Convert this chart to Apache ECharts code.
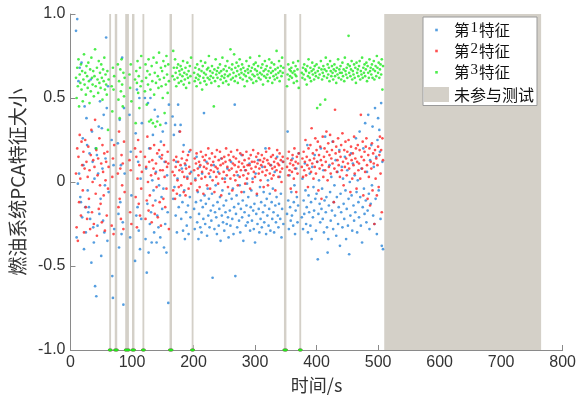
<!DOCTYPE html>
<html>
<head>
<meta charset="utf-8">
<script src="https://cdn.jsdelivr.net/npm/echarts@6/dist/echarts.min.js"></script>
<style>html,body{margin:0;padding:0;background:#fff}#c{width:579px;height:402px}</style>
</head>
<body>
<div id="c"></div>
<script>
// ---- data ----
const startTime = 9; // first sample time (s); one sample per second
const seriesNames = ['第1特征', '第2特征', '第3特征'];
const untestedName = '未参与测试';
const untestedRange = [510, 765];
const excludedRanges = [[63,66],[72,76],[89,95],[100,104],[117,120],[161,165],[197,200],[347,351],[372,375]];
const xTicks = {min: 0, max: 800, step: 100};
const yTicks = {min: -1, max: 1, step: 0.5};

const feature1 = [
0.90,-0.33,0.97,-0.01,0.60,0.05,0.68,-0.09,-0.12,0.71,
-0.21,0.26,0.10,-0.40,0.45,-0.15,-0.30,0.38,0.22,-0.05,
-0.18,-0.15,0.17,-0.22,0.61,-0.48,0.30,0.12,-0.27,-0.36,
0.02,-0.62,0.20,-0.68,0.16,-0.26,0.05,0.33,-0.19,0.48,
-0.10,-0.44,0.32,0.08,-0.23,0.40,-0.30,-0.02,0.14,0.86,
0.44,-0.35,0.57,-0.06,-1,-1,-1,-1,0.25,-0.56,
-0.69,0.10,-0.28,-1,-1,-1,-1,-1,0.23,-0.19,
-0.39,0.37,-0.12,0.10,-0.31,0.74,-0.24,-0.73,0.44,0.05,
-1,-1,-1,-1,-1,-1,-1,0.40,-0.33,0.18,
-0.08,-1,-1,-1,-1,-1,-0.47,0.29,-0.20,0.55,
-0.15,0.12,-0.29,0.50,-0.40,0.02,-0.22,0.35,-1,-1,
-1,-1,0.50,-0.34,0.08,-0.54,-0.13,0.47,-0.42,0.20,
-0.25,0.50,-0.18,-0.36,0.01,0.28,-0.05,-0.30,0.43,-0.11,
0.06,-0.36,-0.20,0.39,-0.27,-0.02,0.15,-0.33,0.24,-0.09,
-0.16,0.30,-0.04,-0.39,0.12,-0.25,0.35,-0.42,0.04,-0.18,
-0.72,0.46,-1,-1,-1,-1,-1,0.39,-0.10,0.28,
-0.03,0.34,-0.20,0.12,-0.30,0.02,0.46,-0.15,0.30,-0.08,
0.34,-0.22,0.08,-0.12,-0.29,0.22,-0.05,-0.34,0.10,-0.18,
-0.26,0.03,-0.14,-0.31,0.18,-0.09,-0.21,0.06,-1,-1,
-1,-1,-0.16,-0.28,0.02,-0.12,0.15,-0.24,-0.06,-0.34,
-0.19,0.09,-0.27,-0.11,-0.30,0.05,-0.15,-0.22,0.41,-0.08,
-0.25,-0.13,0.12,-0.32,-0.04,-0.20,-0.10,-0.27,0.03,-0.17,
-0.23,-0.07,-0.57,-0.14,0.10,-0.28,-0.18,-0.02,-0.21,-0.31,
-0.12,0.06,-0.26,-0.16,-0.09,-0.35,0.14,-0.20,-0.05,-0.24,
-0.14,-0.29,0.02,-0.18,-0.11,-0.25,0.08,-0.21,-0.33,-0.07,
-0.17,-0.26,0.12,-0.10,-0.22,-0.04,-0.31,-0.15,0.46,-0.56,
-0.19,-0.08,-0.27,0.04,-0.13,-0.23,-0.02,-0.30,-0.16,0.16,
-0.21,-0.11,-0.35,-0.06,-0.18,0.07,-0.26,-0.14,-0.01,-0.24,
-0.09,-0.20,0.11,-0.29,-0.15,-0.05,-0.23,0.02,-0.17,-0.28,
-0.13,-0.36,0.05,-0.19,-0.08,-0.25,0.13,-0.16,-0.30,-0.03,
-0.22,-0.12,-0.27,0.09,-0.18,-0.06,-0.24,-0.14,0.20,-0.31,
-0.10,-0.20,0.01,-0.26,-0.16,-0.07,-0.29,0.10,-0.12,-0.22,
-0.04,-0.18,-0.30,0.06,-0.14,-0.24,-0.09,0.15,-0.20,-0.27,
-0.13,0.03,-0.22,-0.07,-0.33,-0.16,0.12,-0.25,-1,-1,
-1,-1,-1,-0.19,0.30,-0.11,-0.28,0.04,-0.15,-0.23,
-0.06,-0.20,0.14,-0.26,-0.12,-0.02,-0.31,-0.17,0.08,-0.09,
-0.24,-0.14,0.17,-1,-1,-1,-1,-0.21,0.02,-0.28,
-0.11,-0.19,0.11,-0.05,-0.25,-0.15,0.22,-0.30,-0.08,-0.18,
0.05,-0.26,-0.12,-0.34,0.09,-0.21,-0.03,-0.17,0.16,-0.10,
-0.29,-0.07,0.12,-0.46,-0.19,0.01,-0.13,-0.24,0.20,-0.16,
-0.04,-0.22,0.07,-0.30,-0.11,0.27,-0.18,-0.09,-0.27,-0.42,
-0.34,-0.14,0.10,-0.06,-0.23,0.03,-0.17,0.24,-0.28,-0.12,
-0.02,-0.20,0.13,-0.32,-0.09,0.06,-0.25,-0.15,0.19,-0.38,
-0.07,-0.18,0.09,-0.27,0.02,-0.13,-0.22,0.15,-0.05,-0.34,
-0.16,0.07,-0.26,-0.10,-0.43,0.00,-0.20,0.17,-0.08,-0.29,
0.11,-0.14,-0.23,0.04,-0.18,0.26,-0.06,-0.30,0.01,-0.12,
-0.21,0.30,-0.09,-0.26,0.08,-0.36,-0.15,0.20,-0.04,-0.19,
0.35,-0.11,-0.24,0.06,-0.17,0.40,-0.07,-0.28,0.13,-0.13,
0.22,-0.02,0.33,-0.20,0.09,-0.25,0.44,-0.10,0.15,-0.31,
0.25,0.38,-0.05,0.31,0.18,-0.22,0.47,-0.38,0.12,-0.40
];

const feature2 = [
0.05,-0.27,0.20,-0.35,0.15,-0.12,0.28,0.02,-0.20,0.24,
0.10,-0.05,0.18,-0.30,0.08,0.25,-0.15,0.12,-0.22,0.03,
0.21,-0.10,0.07,-0.28,0.16,0.31,-0.18,0.00,0.13,-0.25,
0.09,0.37,-0.07,0.19,-0.32,0.04,0.14,-0.16,0.26,-0.02,
-0.13,0.11,-0.24,0.22,0.06,-0.08,0.17,-0.29,0.01,0.12,
-0.20,0.18,-0.04,0.09,-1,-1,-1,-1,-0.26,0.03,
0.14,-0.31,0.22,-1,-1,-1,-1,-1,0.05,-0.15,
0.30,-0.10,0.08,-0.22,0.16,-0.02,0.11,-0.28,0.24,-0.06,
-1,-1,-1,-1,-1,-1,-1,0.13,-0.18,0.07,
-0.25,-1,-1,-1,-1,-1,0.20,-0.09,0.15,-0.27,
0.02,0.25,-0.13,0.10,-0.20,0.18,-0.04,0.06,-1,-1,
-1,-1,0.15,-0.22,0.09,-0.11,0.27,0.00,-0.17,0.12,
-0.08,0.20,0.04,-0.24,0.13,-0.14,0.08,0.22,-0.19,0.05,
0.11,-0.03,0.17,-0.21,0.02,0.19,-0.12,0.07,-0.26,0.14,
0.16,0.07,-0.10,0.22,0.03,-0.15,0.12,-0.04,0.09,0.18,
0.11,-0.28,-1,-1,-1,-1,-1,0.06,-0.05,0.13,
0.04,-0.10,0.09,0.15,-0.07,0.01,0.12,-0.03,0.07,0.30,
0.10,-0.02,0.14,0.06,0.18,-0.06,0.03,0.11,-0.08,0.08,
0.13,0.02,0.16,-0.04,0.09,0.05,0.19,-0.01,-1,-1,
-1,-1,0.07,0.14,0.01,0.11,0.17,-0.05,0.08,0.04,
0.12,-0.03,0.10,0.18,0.02,0.06,0.15,-0.07,0.09,0.13,
0.03,0.16,0.08,-0.02,0.11,0.20,0.05,0.14,-0.04,0.07,
0.10,0.17,0.01,0.12,0.06,-0.06,0.15,0.09,0.03,0.19,
0.08,-0.01,0.13,0.05,0.18,0.10,-0.08,0.14,0.02,0.11,
0.06,0.15,0.00,0.12,0.20,0.04,0.09,-0.03,0.16,0.07,
0.13,0.02,0.18,0.08,-0.05,0.11,0.15,0.04,0.10,0.01,
0.14,0.06,0.19,-0.02,0.09,0.12,0.03,0.17,0.07,-0.06,
0.11,0.16,0.04,0.09,0.13,-0.01,0.07,0.18,0.02,0.10,
0.05,0.14,0.10,-0.04,0.16,0.08,0.12,0.00,0.19,0.06,
0.12,0.03,0.09,0.15,-0.07,0.11,0.17,0.05,0.08,0.13,
0.01,0.10,0.16,0.06,0.12,-0.03,0.14,0.09,0.04,0.18,
0.07,0.13,-0.02,0.11,0.20,0.05,0.10,0.15,0.02,0.08,
0.16,0.04,0.12,0.09,-0.05,0.14,0.07,0.19,0.11,0.03,
0.10,0.17,0.06,0.13,0.00,0.08,0.15,0.12,-1,-1,
-1,-1,-1,0.09,0.14,0.04,0.18,0.07,0.11,-0.04,
0.13,0.06,0.16,0.10,0.02,0.20,0.08,0.12,-0.06,0.15,
0.05,0.11,0.17,-1,-1,-1,-1,0.09,0.14,0.03,
0.18,0.07,0.12,0.25,0.04,0.15,0.10,-0.03,0.20,0.08,
0.13,0.22,0.06,0.32,0.11,0.17,0.02,0.14,0.09,0.26,
0.05,0.19,0.12,0.24,-0.05,0.16,0.08,0.21,0.13,-0.10,
0.10,0.27,0.03,0.15,0.20,0.07,0.12,0.30,0.18,0.01,
0.23,0.09,0.16,0.28,0.05,0.14,0.19,0.11,0.24,-0.12,
0.08,0.43,0.17,0.21,0.06,0.13,0.26,0.10,0.18,0.03,
0.15,0.22,0.07,0.29,0.12,-0.02,0.19,0.09,0.24,0.14,
0.04,0.18,0.11,0.25,0.08,0.16,-0.06,0.21,0.13,0.02,
0.17,0.10,0.27,0.05,0.14,0.20,-0.04,0.12,0.22,0.07,
0.11,0.19,0.02,0.40,0.15,0.08,0.24,-0.08,0.13,0.18,
0.06,0.21,0.26,0.10,-0.10,0.16,0.03,0.20,-0.14,0.12,
0.08,0.23,-0.05,0.17,0.11,-0.25,0.19,0.02,0.14,-0.08,
0.10,0.21,-0.03,0.16,0.27,0.05,0.19,-0.18,0.26,0.13
];

const feature3 = [
0.62,0.50,0.68,0.57,0.73,0.45,0.64,0.59,0.70,0.55,
0.66,0.48,0.61,0.76,0.58,0.65,0.52,0.69,0.63,0.56,
0.71,0.60,0.47,0.67,0.54,0.74,0.62,0.58,0.66,0.51,
0.63,0.79,0.57,0.20,0.68,0.61,0.53,0.72,0.59,0.65,
0.56,0.70,0.62,0.49,0.67,0.60,0.74,0.55,0.64,0.58,
0.52,0.66,0.31,0.61,-1,-1,-1,-1,0.57,0.42,
0.68,0.55,0.63,-1,-1,-1,-1,-1,0.70,0.49,
0.60,0.38,0.67,0.54,0.73,0.58,0.45,0.65,0.51,0.62,
-1,-1,-1,-1,-1,-1,-1,0.64,0.56,0.70,
0.48,-1,-1,-1,-1,-1,0.61,0.35,0.66,0.59,
0.72,0.53,0.63,0.44,0.68,0.57,0.75,0.60,-1,-1,
-1,-1,0.54,0.70,0.62,0.46,0.66,0.58,0.73,0.36,
0.64,0.55,0.37,0.69,0.60,0.35,0.74,0.52,0.65,0.33,
0.59,0.71,0.36,0.63,0.56,0.77,0.61,0.34,0.68,0.57,
0.66,0.50,0.72,0.62,0.41,0.69,0.58,0.75,0.64,0.53,
0.70,0.60,-1,-1,-1,-1,-1,0.63,0.78,0.68,
0.61,0.73,0.65,0.57,0.68,0.62,0.70,0.59,0.66,0.64,
0.69,0.60,0.67,0.63,0.72,0.58,0.65,0.61,0.68,0.56,
0.64,0.71,0.62,0.66,0.59,0.69,0.63,0.74,-1,-1,
-1,-1,0.65,0.60,0.68,0.62,0.57,0.70,0.64,0.61,
0.67,0.63,0.59,0.72,0.66,0.55,0.69,0.62,0.65,0.60,
0.71,0.64,0.58,0.67,0.62,0.68,0.75,0.61,0.66,0.63,
0.59,0.69,0.65,0.62,0.45,0.67,0.60,0.73,0.64,0.66,
0.62,0.68,0.57,0.65,0.70,0.61,0.66,0.63,0.74,0.59,
0.67,0.62,0.64,0.69,0.60,0.66,0.72,0.63,0.58,0.68,
0.64,0.79,0.61,0.67,0.70,0.62,0.65,0.76,0.60,0.68,
0.63,0.71,0.66,0.59,0.69,0.64,0.73,0.62,0.67,0.65,
0.70,0.61,0.68,0.64,0.57,0.66,0.63,0.72,0.60,0.67,
0.65,0.69,0.62,0.74,0.66,0.61,0.68,0.64,0.59,0.70,
0.63,0.67,0.71,0.60,0.66,0.64,0.69,0.62,0.75,0.65,
0.61,0.68,0.64,0.70,0.58,0.66,0.63,0.72,0.67,0.62,
0.69,0.64,0.60,0.66,0.73,0.62,0.68,0.65,0.71,0.59,
0.66,0.63,0.70,0.61,0.67,0.64,0.78,0.62,0.68,0.65,
0.72,0.60,0.66,0.69,0.63,0.74,0.65,0.68,-1,-1,
-1,-1,-1,0.57,0.64,0.70,0.61,0.67,0.63,0.66,
0.68,0.62,0.65,0.71,0.59,0.66,0.64,0.69,0.63,0.60,
0.67,0.72,0.56,-1,-1,-1,-1,0.65,0.62,0.68,
0.64,0.70,0.61,0.67,0.66,0.58,0.69,0.63,0.73,0.65,
0.62,0.68,0.60,0.66,0.71,0.64,0.67,0.61,0.69,0.65,
0.63,0.70,0.44,0.66,0.62,0.68,0.64,0.46,0.72,0.67,
0.61,0.65,0.69,0.63,0.67,0.49,0.74,0.66,0.62,0.70,
0.64,0.68,0.60,0.72,0.66,0.63,0.69,0.65,0.61,0.67,
0.70,0.63,0.66,0.59,0.68,0.64,0.73,0.62,0.67,0.65,
0.69,0.61,0.65,0.71,0.63,0.67,0.60,0.74,0.66,0.64,
0.68,0.62,0.70,0.87,0.65,0.69,0.63,0.67,0.72,0.61,
0.66,0.64,0.70,0.62,0.68,0.59,0.71,0.65,0.67,0.63,
0.69,0.72,0.61,0.66,0.64,0.74,0.62,0.68,0.65,0.70,
0.63,0.67,0.71,0.60,0.69,0.65,0.62,0.73,0.66,0.68,
0.64,0.70,0.62,0.67,0.72,0.61,0.66,0.69,0.63,0.75,
0.68,0.65,0.71,0.62,0.67,0.70,0.64,0.73,0.55,0.69
];

// ---- chart ----
const seriesColors = ['#2b86d8', '#ff2424', '#1fe81f'];
const grayColor = '#d4d0c8';
const toPairs = arr => arr.map((v, i) => [startTime + i, v]);
const dotIcon = 'path://M0,0M25,15M11.2,6.2h2.6v2.6h-2.6z';

const richStyles = {
  c: {fontFamily: 'Noto Sans CJK SC', fontSize: 15.5, color: '#111'},
  s: {fontFamily: 'Liberation Serif', fontSize: 15, color: '#111', verticalAlign: 'top', padding: [0, 1, 4, 1]}
};
const legendFormatter = function (name) {
  const m = name.match(/^(\D*)(\d+)(\D*)$/);
  if (m) return '{c|' + m[1] + '}{s|' + m[2] + '}{c|' + m[3] + '}';
  return '{c|' + name + '}';
};
// one row per legend component so the rows line up exactly
const legendRowTops = [20.5, 41.5, 62.8];
const legends = seriesNames.map((n, i) => ({
  orient: 'vertical', left: 424, top: legendRowTops[i], padding: 0,
  itemWidth: 25, itemHeight: 15, selectedMode: false, z: 6,
  data: [{name: n, icon: dotIcon}],
  formatter: legendFormatter, textStyle: {rich: richStyles}
}));
legends.unshift({
  orient: 'vertical', left: 423, top: 17, padding: [69.5, 3, 3, 1],
  itemWidth: 25, itemHeight: 15, selectedMode: false, z: 5,
  backgroundColor: '#fff', borderColor: '#9a9a9a', borderWidth: 1,
  data: [{name: untestedName, icon: 'rect'}],
  formatter: legendFormatter,
  textStyle: {rich: {c: {fontFamily: 'Noto Sans CJK SC', fontSize: 16, color: '#111'}}}
});

const chart = echarts.init(document.getElementById('c'), null, {renderer: 'canvas'});
const markAreaData = [[{xAxis: untestedRange[0]}, {xAxis: untestedRange[1]}]]
  .concat(excludedRanges.map(r => [{xAxis: r[0]}, {xAxis: r[1]}]));

chart.setOption({
  animation: false,
  backgroundColor: '#fff',
  grid: {left: 65, right: 13, top: 14, bottom: 52, containLabel: false},
  legend: legends,
  xAxis: {
    type: 'value', min: xTicks.min, max: xTicks.max, interval: xTicks.step,
    name: '时间/s', nameLocation: 'middle', nameGap: 25,
    nameTextStyle: {fontFamily: 'Noto Sans CJK SC', fontSize: 18, color: '#333'},
    axisLine: {show: true, onZero: false, lineStyle: {color: '#8a8a8a', width: 1}},
    axisTick: {show: true, inside: true, length: 5, lineStyle: {color: '#8a8a8a'}},
    axisLabel: {fontFamily: 'Liberation Sans', fontSize: 16, color: '#333', margin: 5},
    splitLine: {show: false}
  },
  yAxis: {
    type: 'value', min: yTicks.min, max: yTicks.max, interval: yTicks.step,
    name: '燃油系统PCA特征大小', nameLocation: 'middle', nameGap: 32, nameRotate: 90,
    nameTextStyle: {fontFamily: 'Noto Sans CJK SC', fontSize: 19, color: '#333'},
    axisLine: {show: true, onZero: false, lineStyle: {color: '#8a8a8a', width: 1}},
    axisTick: {show: true, inside: true, length: 5, lineStyle: {color: '#8a8a8a'}},
    axisLabel: {fontFamily: 'Liberation Sans', fontSize: 16, color: '#333', margin: 5,
      formatter: v => (v === 0 ? '0' : v.toFixed(1))},
    splitLine: {show: false}
  },
  series: [
    {
      name: untestedName, type: 'line', data: [], symbol: 'none',
      itemStyle: {color: grayColor}, lineStyle: {color: grayColor},
      markArea: {silent: true, itemStyle: {color: grayColor, opacity: 1}, label: {show: false}, data: markAreaData}
    },
    {name: seriesNames[0], type: 'scatter', symbol: 'circle', symbolSize: 2.7, itemStyle: {color: seriesColors[0]}, data: toPairs(feature1), z: 3},
    {name: seriesNames[1], type: 'scatter', symbol: 'circle', symbolSize: 2.7, itemStyle: {color: seriesColors[1]}, data: toPairs(feature2), z: 4},
    {name: seriesNames[2], type: 'scatter', symbol: 'circle', symbolSize: 2.7, itemStyle: {color: seriesColors[2]}, data: toPairs(feature3), z: 5}
  ]
});
</script>
</body>
</html>
